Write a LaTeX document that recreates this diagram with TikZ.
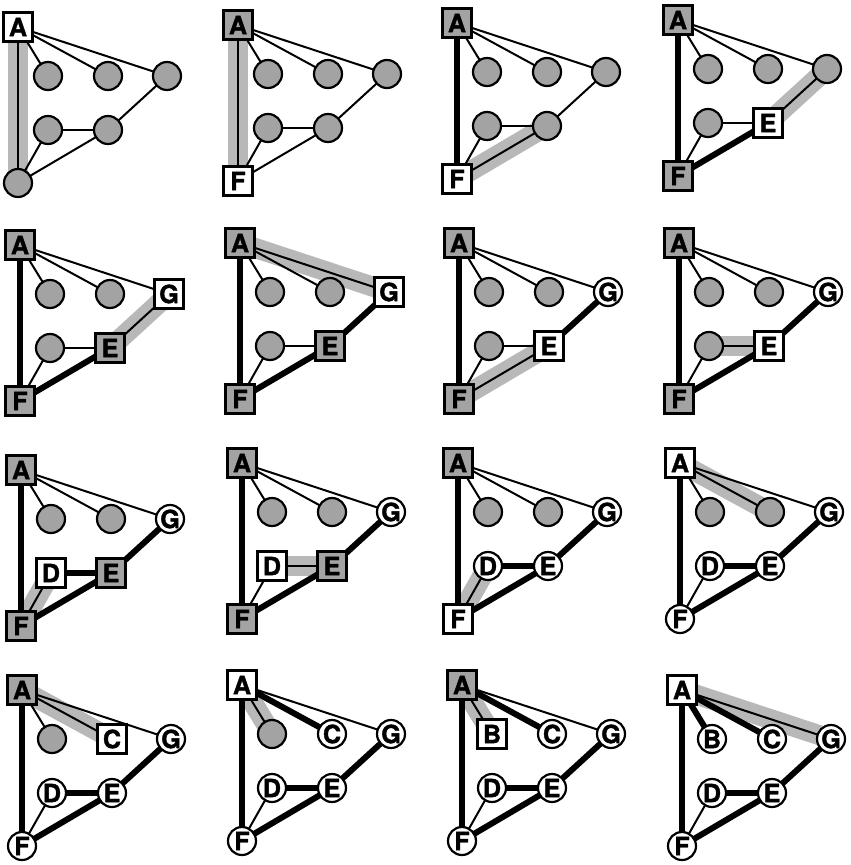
\documentclass[tikz,border=0pt]{standalone}
\usepackage{fontspec}
\newfontfamily\lblfont{TeX Gyre Heros}[BoldFeatures={FakeBold=1.6}]
\pgfdeclarelayer{bandlayer}
\pgfdeclarelayer{edgelayer}
\pgfsetlayers{bandlayer,edgelayer,main}
\definecolor{nodegray}{gray}{0.64}
\definecolor{bandgray}{gray}{0.72}
\tikzset{
  basenode/.style={draw=black, line width=2.2pt, inner sep=0pt,
    font=\lblfont\bfseries\fontsize{25}{25}\selectfont},
  circnode/.style={basenode, circle, minimum size=28pt},
  sqnode/.style={basenode, rectangle, minimum size=29pt},
  gc/.style={circnode, fill=nodegray, node contents={}},
  wc/.style={circnode, fill=white, node contents={#1}},
  ws/.style={sqnode, fill=white, node contents={#1}},
  gs/.style={sqnode, fill=nodegray, node contents={#1}},
  thinedge/.style={line width=2pt},
  thickedge/.style={line width=6pt},
  band/.style={line width=20pt, draw=bandgray},
}
\newcommand\panel[9]{%
  \begin{scope}[shift={#2}]
    \path (0,0) node[name=#1A, #3];
    \path (30,49) node[name=#1B, #4];
    \path (90,49) node[name=#1C, #5];
    \path (149,49) node[name=#1G, #6];
    \path (30,103) node[name=#1D, #7];
    \path (90,103) node[name=#1E, #8];
    \path (0,156) node[name=#1F, #9];
  \end{scope}}
\newcommand\edges[3]{%
  \begin{pgfonlayer}{bandlayer}
    \foreach \u/\v in {#2} \draw[band] (#1\u.center) -- (#1\v.center);
  \end{pgfonlayer}
  \begin{pgfonlayer}{edgelayer}
    \foreach \u/\v in {A/B,A/C,A/G,A/F,G/E,D/E,D/F,F/E}
      \draw[thinedge] (#1\u.center) -- (#1\v.center);
    \if\relax\detokenize{#3}\relax\else
      \foreach \u/\v in {#3} \draw[thickedge] (#1\u.center) -- (#1\v.center);
    \fi
  \end{pgfonlayer}}
\begin{document}
\begin{tikzpicture}[x=1pt,y=-1pt]
\useasboundingbox (0,0) rectangle (851,865);
\panel{p1}{(18,27)}{ws=A}{gc}{gc}{gc}{gc}{gc}{gc}
\edges{p1}{A/F}{}
\panel{p2}{(238,25)}{gs=A}{gc}{gc}{gc}{gc}{gc}{ws=F}
\edges{p2}{A/F}{}
\panel{p3}{(457,23)}{gs=A}{gc}{gc}{gc}{gc}{gc}{ws=F}
\edges{p3}{F/E}{A/F}
\panel{p4}{(678,20)}{gs=A}{gc}{gc}{gc}{gc}{ws=E}{gs=F}
\edges{p4}{G/E}{A/F,F/E}
\panel{p5}{(20,245)}{gs=A}{gc}{gc}{ws=G}{gc}{gs=E}{gs=F}
\edges{p5}{G/E}{A/F,F/E}
\panel{p6}{(240,243)}{gs=A}{gc}{gc}{ws=G}{gc}{gs=E}{gs=F}
\edges{p6}{A/G}{A/F,F/E,G/E}
\panel{p7}{(459,243)}{gs=A}{gc}{gc}{wc=G}{gc}{ws=E}{gs=F}
\edges{p7}{F/E}{A/F,G/E}
\panel{p8}{(679,243)}{gs=A}{gc}{gc}{wc=G}{gc}{ws=E}{gs=F}
\edges{p8}{D/E}{A/F,G/E,F/E}
\panel{p9}{(21,470)}{gs=A}{gc}{gc}{wc=G}{ws=D}{gs=E}{gs=F}
\edges{p9}{D/F}{A/F,D/E,G/E,F/E}
\panel{p10}{(242,463)}{gs=A}{gc}{gc}{wc=G}{ws=D}{gs=E}{gs=F}
\edges{p10}{D/E}{A/F,G/E,F/E}
\panel{p11}{(458,463)}{gs=A}{gc}{gc}{wc=G}{wc=D}{wc=E}{ws=F}
\edges{p11}{D/F}{A/F,D/E,G/E,F/E}
\panel{p12}{(680,463)}{ws=A}{gc}{gc}{wc=G}{wc=D}{wc=E}{wc=F}
\edges{p12}{A/C}{A/F,D/E,G/E,F/E}
\panel{p13}{(22,690)}{gs=A}{gc}{ws=C}{wc=G}{wc=D}{wc=E}{wc=F}
\edges{p13}{A/C}{A/F,D/E,G/E,F/E}
\panel{p14}{(242,685)}{ws=A}{gc}{wc=C}{wc=G}{wc=D}{wc=E}{wc=F}
\edges{p14}{A/B}{A/F,A/C,D/E,G/E,F/E}
\panel{p15}{(462,685)}{gs=A}{ws=B}{wc=C}{wc=G}{wc=D}{wc=E}{wc=F}
\edges{p15}{A/B}{A/F,A/C,D/E,G/E,F/E}
\panel{p16}{(682,690)}{ws=A}{wc=B}{wc=C}{wc=G}{wc=D}{wc=E}{wc=F}
\edges{p16}{A/G}{A/F,A/B,A/C,D/E,G/E,F/E}
\end{tikzpicture}
\end{document}
